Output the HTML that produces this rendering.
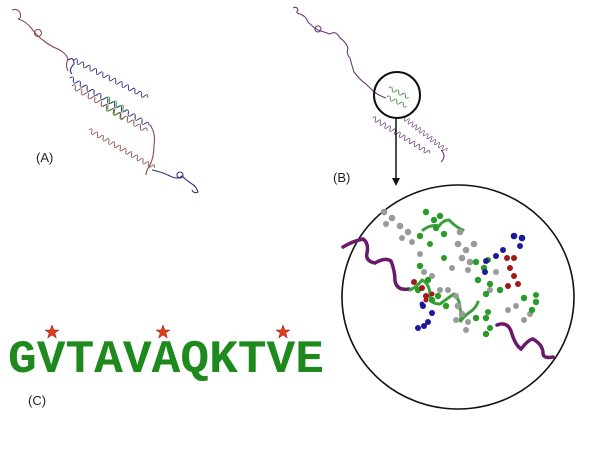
<!DOCTYPE html>
<html><head><meta charset="utf-8"><style>
html,body{margin:0;padding:0;background:#fff;}
svg{display:block}
.lbl{font-family:"Liberation Sans",sans-serif;font-size:13px;fill:#222}
</style></head><body>
<svg width="606" height="455" viewBox="0 0 606 455" xmlns="http://www.w3.org/2000/svg">
<defs>
<path id="w" d="M0 0 q2 -8 4 0 t4 0 t4 0 t4 0 t4 0 t4 0 t4 0 t4 0 t4 0 t4 0 t4 0 t4 0 t4 0 t4 0 t4 0 t4 0 t4 0 t4 0 t4 0 t4 0 t4 0 t4 0 t4 0" fill="none"/>
<path id="ws" d="M0 0 q2 -8 4 0 t4 0 t4 0 t4 0 t4 0 t4 0" fill="none"/>
</defs>
<!-- Panel A -->
<g fill="none" stroke-width="1.1">
<path d="M12 10 q6 -2 8 3 t-2 6 q8 2 14 10 q6 8 12 12 q8 6 14 8 q8 4 10 10 q-3 6 0 12" stroke="#8a4a4a"/>
<circle cx="38" cy="33" r="3.5" stroke="#8a4a4a"/>
<g transform="translate(74,60) rotate(27)"><use href="#w" stroke="#2a2f7a" transform="scale(0.9,0.6)"/></g>
<path d="M68 60 q6 -4 6 4 q-6 6 -2 10" stroke="#2a2f7a"/>
<g transform="translate(70,78) rotate(31)"><use href="#w" stroke="#2a2f7a" transform="scale(1.0,0.6)"/></g>
<g transform="translate(72,86) rotate(31)"><use href="#w" stroke="#8a4a4a" transform="scale(0.95,0.6)"/></g>
<g transform="translate(106,98) rotate(31)"><use href="#ws" stroke="#3a8a3a" transform="scale(1,0.6)"/></g>
<g transform="translate(103,106) rotate(31)"><use href="#ws" stroke="#3a8a3a" transform="scale(1,0.6)"/></g>
<g transform="translate(89,130) rotate(30)"><use href="#w" stroke="#8a4a4a" transform="scale(0.82,0.6)"/></g>
<path d="M150 125 q6 8 4 20 q0 12 -4 20 q-4 6 -4 10" stroke="#8a4a4a"/>
<path d="M152 170 q10 2 18 6 q8 4 12 0 q4 4 10 8 q4 2 6 8 q-4 2 -6 -2" stroke="#2a2f7a"/>
<circle cx="180" cy="175" r="3" stroke="#2a2f7a"/>
</g>
<text x="36" y="162" class="lbl">(A)</text>
<!-- Panel B -->
<g fill="none" stroke-width="1.1" stroke="#6a3a7a">
<path d="M293 8 q4 -2 5 2 q-3 3 2 4 q6 2 8 8 q6 6 10 8 q6 2 12 4 q6 -4 10 4 q6 4 8 10 q-2 6 2 10 q2 8 4 14 q6 8 12 12 q6 6 8 8 q6 4 12 6"/>
<circle cx="318" cy="29" r="3"/>
<g transform="translate(403,117) rotate(38)"><use href="#w" transform="scale(0.6,0.6)"/></g>
<g transform="translate(373,118) rotate(32)"><use href="#w" transform="scale(0.72,0.6)"/></g>
<path d="M441 150 q6 6 0 12"/>
</g>
<g fill="none" stroke-width="1.1" stroke="#3a8a3a">
<g transform="translate(389,88) rotate(25)"><use href="#ws" transform="scale(0.9,0.5)"/></g>
<g transform="translate(387,97) rotate(25)"><use href="#ws" transform="scale(0.9,0.5)"/></g>
</g>
<circle cx="397" cy="95" r="23" fill="none" stroke="#111" stroke-width="2"/>
<line x1="396" y1="118" x2="396" y2="180" stroke="#111" stroke-width="1.5"/>
<path d="M392 178 L396 186 L400 178 Z" fill="#111"/>
<text x="333" y="182" class="lbl">(B)</text>
<!-- big circle -->
<ellipse cx="458" cy="297" rx="116" ry="112" fill="none" stroke="#111" stroke-width="1.6"/>
<g fill="none" stroke="#6a1a6a" stroke-width="3.5" stroke-linecap="round">
<path d="M343 247 q10 -6 20 -8 q6 4 4 14 q-2 8 8 10 q10 -6 16 -2 q4 10 4 20 q2 10 14 8"/>
<path d="M497 325 q10 -4 14 6 q4 14 10 18 q8 -10 12 -10 q10 6 10 14 q0 6 10 4"/>
</g>
<g fill="none" stroke="#3aa03a" stroke-width="3" stroke-linecap="round">
<path d="M410 290 q8 -4 12 -10 q8 4 8 16 q0 8 10 8 q8 -6 14 -10 q6 6 6 14 q2 8 0 14 q4 -6 10 -10 q6 -4 8 -10"/>
<path d="M423 230 q8 -6 16 -4 q4 -6 10 -6 q8 8 14 10"/>
</g>
<g fill="#9a9a9a">
<circle cx="384" cy="212" r="3.3"/><circle cx="392" cy="218" r="3.3"/><circle cx="386" cy="224" r="3"/><circle cx="400" cy="226" r="3.3"/><circle cx="408" cy="232" r="3.3"/><circle cx="402" cy="238" r="3"/><circle cx="412" cy="242" r="3"/><circle cx="420" cy="254" r="3"/>
<circle cx="460" cy="232" r="3.3"/><circle cx="458" cy="244" r="3.3"/><circle cx="466" cy="250" r="3.3"/><circle cx="462" cy="258" r="3.3"/><circle cx="470" cy="262" r="3.3"/><circle cx="474" cy="244" r="3.3"/><circle cx="468" cy="270" r="3"/><circle cx="452" cy="268" r="3"/>
<circle cx="424" cy="272" r="3"/><circle cx="432" cy="276" r="3"/><circle cx="448" cy="290" r="3"/><circle cx="456" cy="296" r="3"/>
<circle cx="458" cy="306" r="3.3"/><circle cx="462" cy="314" r="3.3"/><circle cx="456" cy="320" r="3"/><circle cx="468" cy="322" r="3"/><circle cx="466" cy="330" r="3"/>
<circle cx="490" cy="290" r="3"/><circle cx="508" cy="310" r="3"/><circle cx="516" cy="306" r="3"/><circle cx="530" cy="314" r="3"/><circle cx="524" cy="320" r="3"/><circle cx="496" cy="272" r="3"/><circle cx="440" cy="290" r="3"/>
</g>
<g fill="#2a9a2a">
<circle cx="426" cy="212" r="3.2"/><circle cx="434" cy="220" r="3.2"/><circle cx="440" cy="216" r="3.2"/><circle cx="436" cy="228" r="3.2"/><circle cx="444" cy="234" r="3.2"/><circle cx="420" cy="236" r="3.2"/><circle cx="430" cy="244" r="3"/>
<circle cx="420" cy="266" r="3.2"/><circle cx="428" cy="280" r="3.2"/><circle cx="418" cy="290" r="3.2"/><circle cx="432" cy="300" r="3.2"/><circle cx="438" cy="296" r="3.2"/><circle cx="446" cy="306" r="3.2"/>
<circle cx="476" cy="262" r="3.2"/><circle cx="484" cy="268" r="3.2"/><circle cx="478" cy="280" r="3.2"/><circle cx="490" cy="284" r="3.2"/><circle cx="486" cy="294" r="3.2"/><circle cx="500" cy="290" r="3.2"/>
<circle cx="524" cy="298" r="3.2"/><circle cx="536" cy="302" r="3.2"/><circle cx="532" cy="310" r="3.2"/><circle cx="536" cy="295" r="3"/>
<circle cx="476" cy="318" r="3.2"/><circle cx="486" cy="318" r="3.2"/><circle cx="488" cy="312" r="3"/><circle cx="486" cy="334" r="3.2"/><circle cx="490" cy="328" r="3"/>
<circle cx="444" cy="258" r="3"/><circle cx="488" cy="260" r="3"/>
</g>
<g fill="#1a1a9a">
<circle cx="514" cy="236" r="3.3"/><circle cx="522" cy="238" r="3.3"/><circle cx="520" cy="246" r="3"/><circle cx="503" cy="250" r="3"/><circle cx="496" cy="256" r="3"/><circle cx="486" cy="261" r="3"/>
<circle cx="423" cy="306" r="3"/><circle cx="432" cy="313" r="3"/><circle cx="428" cy="322" r="3"/><circle cx="424" cy="326" r="3"/><circle cx="418" cy="328" r="3"/><circle cx="422" cy="304" r="2.5"/>
<circle cx="485" cy="272" r="3"/>
</g>
<g fill="#a01a1a">
<circle cx="507" cy="258" r="3"/><circle cx="514" cy="258" r="3"/><circle cx="510" cy="268" r="3"/><circle cx="514" cy="276" r="3"/><circle cx="518" cy="284" r="3"/><circle cx="508" cy="286" r="3"/>
<circle cx="414" cy="282" r="3"/><circle cx="422" cy="288" r="3"/><circle cx="426" cy="296" r="3"/><circle cx="432" cy="294" r="2.5"/><circle cx="426" cy="300" r="2.5"/>
</g>
<!-- Panel C -->
<g fill="#e53a1a" stroke="#7a1a0a" stroke-width="0.5">
<polygon points="52,325 53.8,330 59,330 54.8,333 56.3,338 52,335 47.7,338 49.2,333 45,330 50.2,330"/>
<polygon points="163,325 164.8,330 170,330 165.8,333 167.3,338 163,335 158.7,338 160.2,333 156,330 161.2,330"/>
<polygon points="283,325 284.8,330 290,330 285.8,333 287.3,338 283,335 278.7,338 280.2,333 276,330 281.2,330"/>
</g>
<text x="8" y="372" textLength="316" lengthAdjust="spacingAndGlyphs" style="font-family:'Liberation Mono',monospace;font-weight:bold;font-size:46px;fill:#1e8a1e">GVTAVAQKTVE</text>
<text x="28" y="405" class="lbl">(C)</text>
</svg>
</body></html>
